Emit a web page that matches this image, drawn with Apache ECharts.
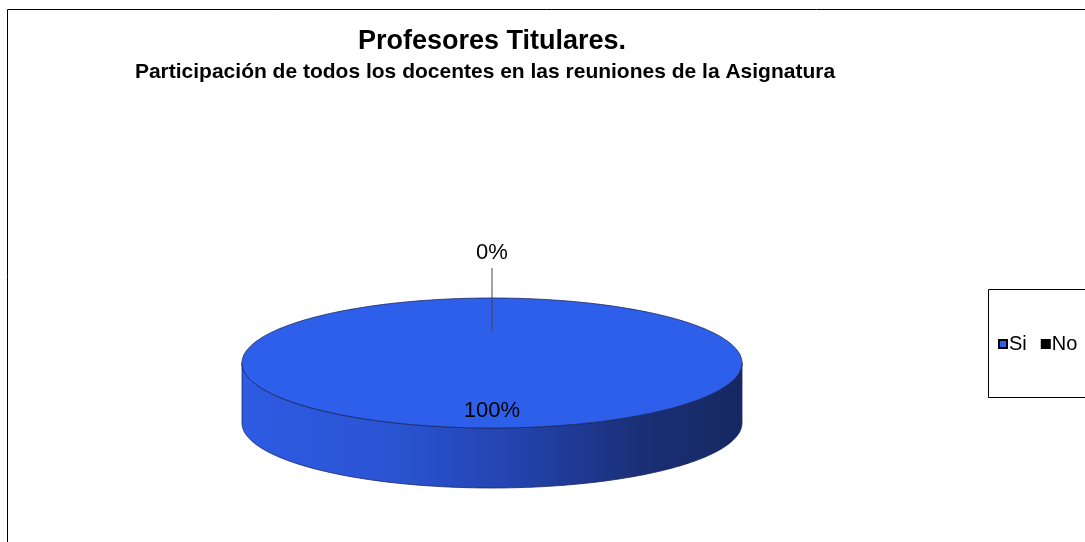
<!DOCTYPE html>
<html>
<head>
<meta charset="utf-8">
<title>Profesores Titulares</title>
<script src="https://cdn.jsdelivr.net/npm/echarts@6/dist/echarts.min.js"></script>
<style>
  html, body { margin: 0; padding: 0; background: #fff; }
  #main { width: 1085px; height: 542px; }
</style>
</head>
<body>
<div id="main"></div>
<script>
var chart_dom = document.getElementById('main');
var chart = echarts.init(chart_dom, null, { renderer: 'canvas' });

// data
var categories = ['Si', 'No'];
var values = [100, 0];
var top_colors = ['#2E5FEB', '#000000'];
var title_text = 'Profesores Titulares.';
var subtitle_text = 'Participación de todos los docentes en las reuniones de la Asignatura';

// layout of the flat 3D pie (pixels)
var cx = 492, cy = 363, rx = 250, ry = 65, depth = 60;
var font = 'Arial, "Liberation Sans", sans-serif';

var total = values.reduce(function (a, b) { return a + b; }, 0);

// angle in degrees, clockwise from 12 o'clock
function ellipsePoint(deg, k, dy) {
    var r = deg * Math.PI / 180;
    return [cx + rx * k * Math.sin(r), cy - ry * k * Math.cos(r) + (dy || 0)];
}

function arcPoints(a0, a1, dy) {
    var pts = [];
    var steps = Math.max(2, Math.ceil(Math.abs(a1 - a0)));
    for (var i = 0; i <= steps; i++) {
        pts.push(ellipsePoint(a0 + (a1 - a0) * i / steps, 1, dy));
    }
    return pts;
}

function makeRenderItem(seriesIndex) {
    return function (params, api) {
        var value = api.value(0);
        var before = 0;
        for (var i = 0; i < seriesIndex; i++) before += values[i];
        var a0 = before / total * 360;
        var a1 = (before + value) / total * 360;
        var children = [];

        // side wall, only the front half is visible
        var s0 = Math.max(a0, 90), s1 = Math.min(a1, 270);
        if (s1 > s0) {
            var topArc = arcPoints(s0, s1, 0);
            var botArc = arcPoints(s1, s0, depth);
            children.push({
                type: 'polygon',
                shape: { points: topArc.concat(botArc) },
                style: {
                    fill: new echarts.graphic.LinearGradient(1, 0, 0, 0, [
                        { offset: 0, color: '#162862' },
                        { offset: 0.2, color: '#1A2F75' },
                        { offset: 0.45, color: '#2343AE' },
                        { offset: 0.7, color: '#2A54D2' },
                        { offset: 1, color: '#2D5BE2' }
                    ]),
                    stroke: '#1A2660',
                    lineWidth: 0.8
                }
            });
        }

        // top face
        if (a1 > a0) {
            var pts = arcPoints(a0, a1, 0);
            if (a1 - a0 < 360) pts.push([cx, cy]);
            children.push({
                type: 'polygon',
                shape: { points: pts },
                style: {
                    fill: api.visual('color'),
                    stroke: '#1A2660',
                    lineWidth: 0.8
                }
            });
        }

        // data label
        var mid = (a0 + a1) / 2;
        var pct = Math.round(value / total * 100) + '%';
        if (value > 0) {
            var p = ellipsePoint(mid, 0.74, 0);
            children.push({
                type: 'text', x: p[0], y: p[1], z2: 10,
                style: { text: pct, font: '22px ' + font, fill: '#000', align: 'center', verticalAlign: 'middle' }
            });
        } else {
            var pIn = ellipsePoint(mid, 0.5, 0);
            var pOut = ellipsePoint(mid, 1, -30);
            children.push({
                type: 'line', z2: 10,
                shape: { x1: pIn[0], y1: pIn[1], x2: pOut[0], y2: pOut[1] },
                style: { stroke: '#444', lineWidth: 1 }
            });
            children.push({
                type: 'text', x: pOut[0], y: pOut[1] - 15, z2: 10,
                style: { text: pct, font: '22px ' + font, fill: '#000', align: 'center', verticalAlign: 'middle' }
            });
        }
        return { type: 'group', children: children };
    };
}

var series = categories.map(function (name, i) {
    return {
        name: name,
        type: 'custom',
        coordinateSystem: 'none',
        renderItem: makeRenderItem(i),
        itemStyle: { color: top_colors[i], borderColor: '#000', borderWidth: 1 },
        data: [[values[i]]]
    };
});

var option = {
    animation: false,
    backgroundColor: '#fff',
    graphic: [
        {
            type: 'rect', z: -1,
            shape: { x: 7.5, y: 9.5, width: 1200, height: 700 },
            style: { fill: '#fff', stroke: '#000', lineWidth: 1 }
        },
        {
            type: 'text', x: 492, y: 42,
            style: { text: title_text, font: 'bold 27px ' + font, fill: '#000', align: 'center', verticalAlign: 'middle' }
        },
        {
            type: 'text', x: 485, y: 72,
            style: { text: subtitle_text, font: 'bold 21px ' + font, fill: '#000', align: 'center', verticalAlign: 'middle' }
        },
        {
            type: 'rect',
            shape: { x: 988.5, y: 289.5, width: 200, height: 108 },
            style: { fill: '#fff', stroke: '#000', lineWidth: 1 }
        }
    ],
    legend: {
        data: categories,
        left: 998,
        top: 334,
        padding: 0,
        itemWidth: 8,
        itemHeight: 8,
        itemGap: 14,
        icon: 'rect',
        textStyle: { fontFamily: font, fontSize: 20, color: '#000', padding: [0, 0, 0, -3] }
    },
    series: series
};

chart.setOption(option);
window.addEventListener('resize', chart.resize);
</script>
</body>
</html>
